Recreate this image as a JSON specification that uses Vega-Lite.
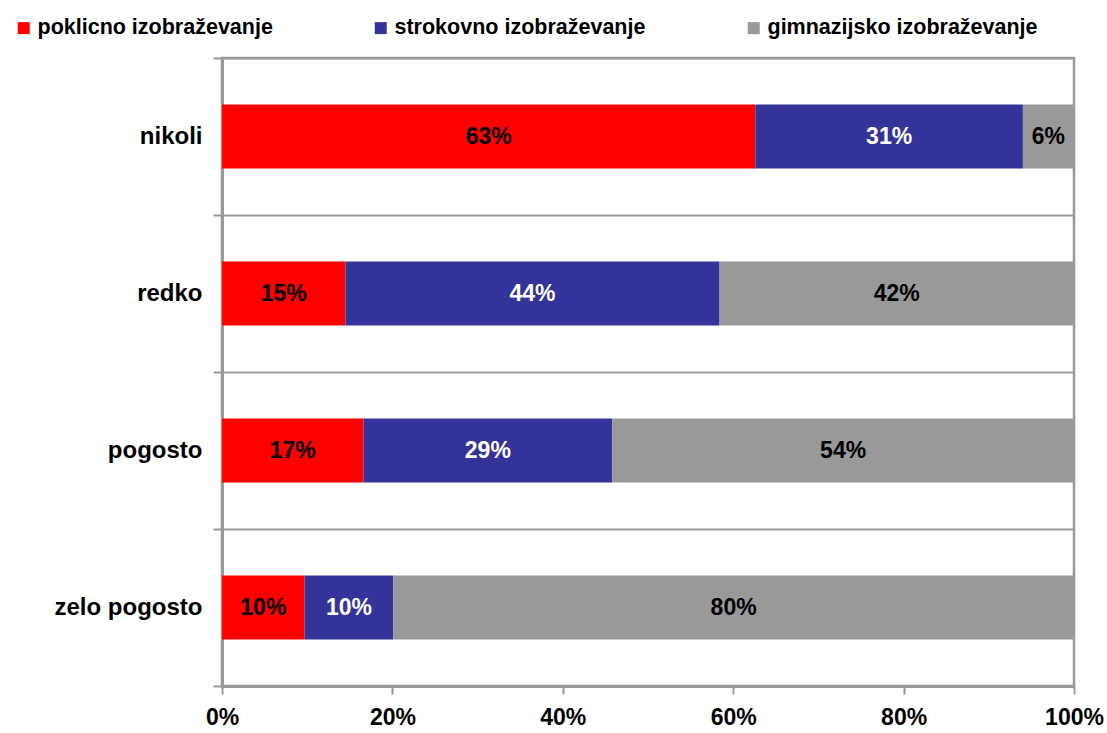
{
  "$schema": "https://vega.github.io/schema/vega-lite/v6.json",
  "width": 852,
  "height": 628,
  "autosize": "none",
  "padding": {"left": 222, "top": 58, "right": 33, "bottom": 47},
  "background": "white",
  "config": {
    "font": "Liberation Sans",
    "view": {"stroke": "#999999", "strokeWidth": 2.5}
  },
  "data": {
    "values": [
      {"category": "nikoli", "series": "poklicno izobraževanje", "rank": 1, "value": 62.6, "label": "63%"},
      {"category": "nikoli", "series": "strokovno izobraževanje", "rank": 2, "value": 31.4, "label": "31%"},
      {"category": "nikoli", "series": "gimnazijsko izobraževanje", "rank": 3, "value": 6.0, "label": "6%"},
      {"category": "redko", "series": "poklicno izobraževanje", "rank": 1, "value": 14.5, "label": "15%"},
      {"category": "redko", "series": "strokovno izobraževanje", "rank": 2, "value": 43.9, "label": "44%"},
      {"category": "redko", "series": "gimnazijsko izobraževanje", "rank": 3, "value": 41.6, "label": "42%"},
      {"category": "pogosto", "series": "poklicno izobraževanje", "rank": 1, "value": 16.6, "label": "17%"},
      {"category": "pogosto", "series": "strokovno izobraževanje", "rank": 2, "value": 29.2, "label": "29%"},
      {"category": "pogosto", "series": "gimnazijsko izobraževanje", "rank": 3, "value": 54.2, "label": "54%"},
      {"category": "zelo pogosto", "series": "poklicno izobraževanje", "rank": 1, "value": 9.7, "label": "10%"},
      {"category": "zelo pogosto", "series": "strokovno izobraževanje", "rank": 2, "value": 10.4, "label": "10%"},
      {"category": "zelo pogosto", "series": "gimnazijsko izobraževanje", "rank": 3, "value": 79.9, "label": "80%"}
    ]
  },
  "transform": [
    {"stack": "value", "groupby": ["category"], "sort": [{"field": "rank", "order": "ascending"}], "offset": "normalize", "as": ["x0", "x1"]}
  ],
  "encoding": {
    "y": {
      "field": "category",
      "type": "nominal",
      "sort": ["nikoli", "redko", "pogosto", "zelo pogosto"],
      "scale": {"paddingInner": 0, "paddingOuter": 0},
      "axis": {
        "title": null,
        "tickBand": "extent",
        "grid": true,
        "gridColor": "#9a9a9a",
        "gridWidth": 2,
        "domainColor": "#999999",
        "domainWidth": 3,
        "tickColor": "#999999",
        "tickWidth": 2,
        "tickSize": 9,
        "labelFont": "Liberation Sans",
        "labelFontSize": 24,
        "labelFontWeight": "bold",
        "labelColor": "black",
        "labelPadding": 11
      }
    }
  },
  "layer": [
    {
      "mark": {"type": "bar", "size": 64},
      "encoding": {
        "x": {
          "field": "x0",
          "type": "quantitative",
          "scale": {"domain": [0, 1], "nice": false},
          "axis": {
            "title": null,
            "format": ".0%",
            "values": [0, 0.2, 0.4, 0.6, 0.8, 1],
            "grid": false,
            "domainColor": "#999999",
            "domainWidth": 3,
            "tickColor": "#999999",
            "tickWidth": 2,
            "tickSize": 8,
            "labelFont": "Liberation Sans",
            "labelFontSize": 23,
            "labelFontWeight": "bold",
            "labelColor": "black",
            "labelPadding": 12,
            "labelFlush": false
          }
        },
        "x2": {"field": "x1"},
        "color": {
          "field": "series",
          "type": "nominal",
          "sort": ["poklicno izobraževanje", "strokovno izobraževanje", "gimnazijsko izobraževanje"],
          "scale": {
            "domain": ["poklicno izobraževanje", "strokovno izobraževanje", "gimnazijsko izobraževanje"],
            "range": ["#ff0000", "#333399", "#999999"]
          },
          "legend": {
            "title": null,
            "orient": "none",
            "direction": "horizontal",
            "columns": 3,
            "legendX": -209,
            "legendY": -41,
            "columnPadding": 97,
            "symbolType": "square",
            "symbolSize": 144,
            "symbolStrokeWidth": 0,
            "labelOffset": 3,
            "labelFont": "Liberation Sans",
            "labelFontSize": 21.5,
            "labelFontWeight": "bold",
            "labelColor": "black",
            "labelLimit": 400,
            "padding": 0
          }
        }
      }
    },
    {
      "transform": [{"fold": ["x0", "x1"], "as": ["edge", "pos"]}],
      "mark": {"type": "text", "font": "Liberation Sans", "fontSize": 23, "fontWeight": "bold", "baseline": "middle", "align": "center"},
      "encoding": {
        "x": {"aggregate": "mean", "field": "pos", "type": "quantitative"},
        "text": {"field": "label", "type": "nominal"},
        "detail": {"field": "series", "type": "nominal"},
        "color": {
          "condition": {"test": "datum.series === 'strokovno izobraževanje'", "value": "white"},
          "value": "black"
        }
      }
    }
  ]
}
